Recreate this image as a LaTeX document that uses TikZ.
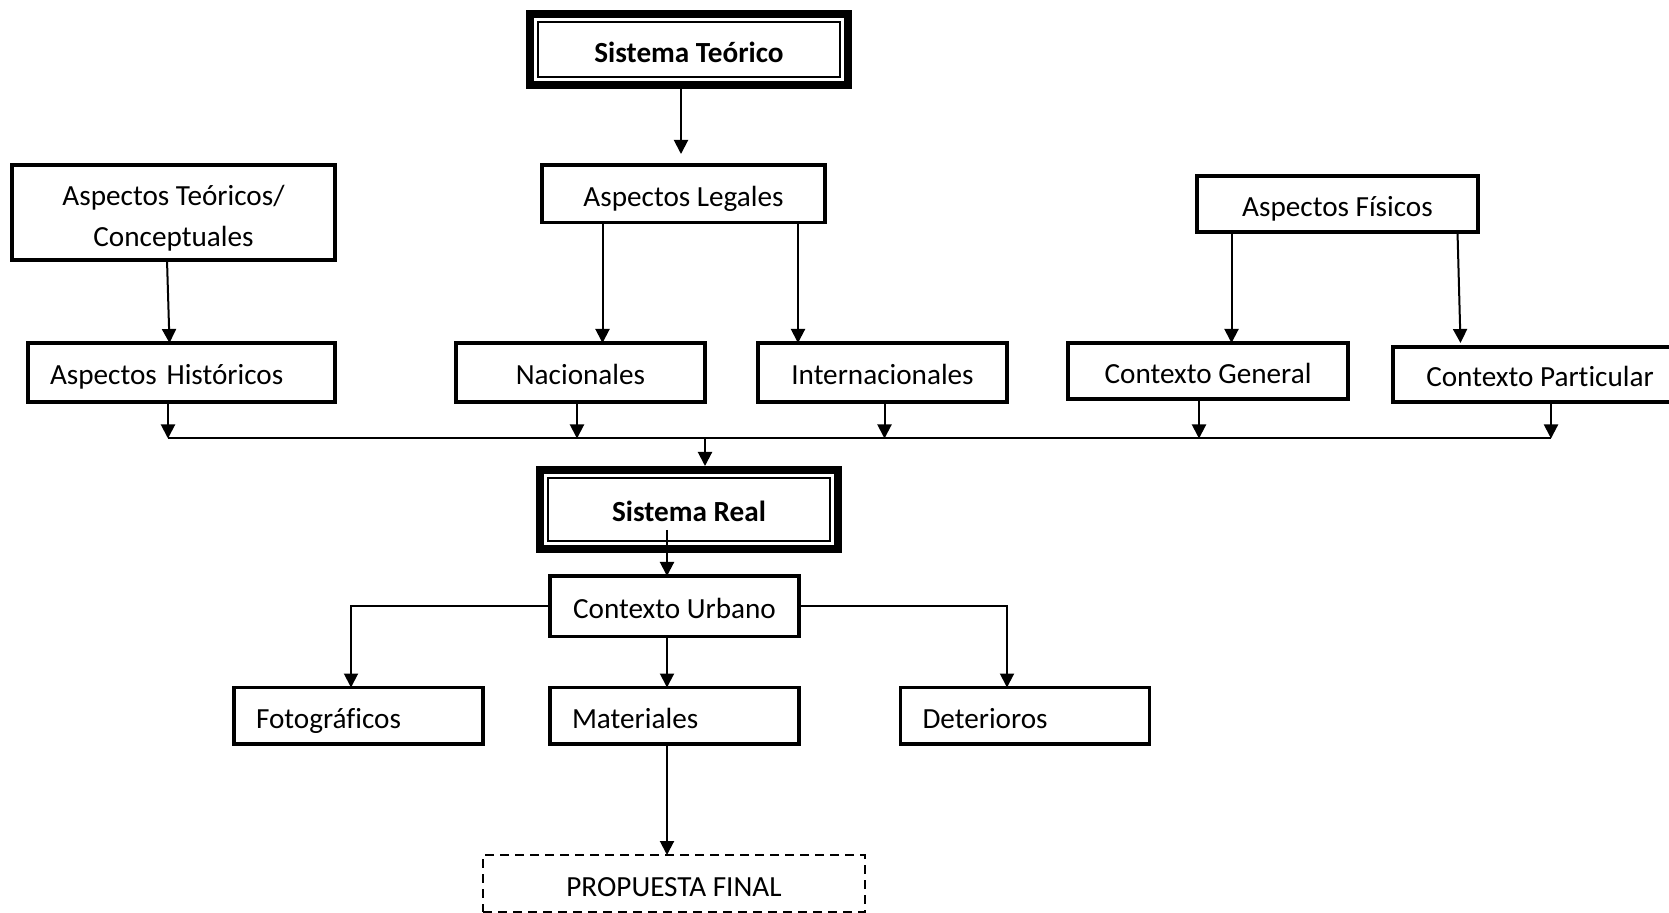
\documentclass[tikz,border=0pt]{standalone}
\usepackage{fontspec}
\setmainfont{Carlito}[Ligatures=NoCommon]
\usetikzlibrary{arrows.meta,calc}
\begin{document}
\begin{tikzpicture}[x=0.5pt,y=-0.5pt,
  every node/.style={font=\fontsize{14.6}{20.5}\selectfont},
  low/.style={text height=13pt, text depth=0.5pt},
  box/.style={draw, line width=1.7pt, outer sep=0pt, inner sep=0pt, align=center, low},
  leftbox/.style={box, inner xsep=11pt, text width=#1, align=left},
  realbox/.style={draw, line width=1pt, outer sep=0pt, inner sep=0pt, low, font=\fontsize{14.6}{20.5}\selectfont\bfseries},
  frame/.style={line width=4pt},
  arr/.style={line width=1pt, -{Triangle[length=7pt,width=7pt]}},
  plain/.style={line width=1pt},
  dashbox/.style={draw, line width=1.2pt, dash pattern=on 4.5pt off 3pt, outer sep=0pt, inner sep=0pt, low}
]
\fill[white] (0,0) rectangle (1669,913);
\clip (0,0) rectangle (1669,913);

% top level
\node[realbox, minimum width=151pt, minimum height=27.25pt] (st) at (689,49.75) {Sistema Teórico};
\draw[frame] ([shift={(-4pt,4pt)}]st.north west) rectangle ([shift={(4pt,-4pt)}]st.south east);

\node[draw, line width=1.7pt, outer sep=0pt, inner sep=0pt, align=center, text height=34pt, text depth=0pt, minimum width=161.5pt, minimum height=47.5pt] (tc) at (173.5,212.5) {Aspectos Teóricos/\\Conceptuales};
\node[box, minimum width=141.5pt, minimum height=28.75pt] (le) at (683.5,193.75) {Aspectos Legales};
\node[box, minimum width=140.5pt, minimum height=28pt] (fi) at (1337.5,204) {Aspectos Físicos};

\node[leftbox=131.5pt, minimum width=153.5pt, minimum height=29.5pt] (hi) at (181.5,372.5) {Aspectos Históricos};
\node[box, minimum width=124.5pt, minimum height=29.5pt] (na) at (580.5,372.5) {Nacionales};
\node[box, minimum width=124.5pt, minimum height=29.5pt] (in) at (882.5,372.5) {Internacionales};
\node[box, minimum width=140pt, minimum height=28pt] (cg) at (1208,371) {Contexto General};
\node[box, minimum width=147pt, minimum height=27.5pt] (cp) at (1540,374.5) {Contexto Particular};

\coordinate (bus) at (0,438.5);

\node[realbox, minimum width=141pt, minimum height=31.5pt] (sr) at (689,509.5) {Sistema Real};
\draw[frame] ([shift={(-4pt,4pt)}]sr.north west) rectangle ([shift={(4pt,-4pt)}]sr.south east);

\node[box, minimum width=124.5pt, minimum height=30.25pt] (cu) at (674.5,606.25) {Contexto Urbano};
\node[leftbox=102.5pt, minimum width=124.5pt, minimum height=28.25pt] (fo) at (358.5,715.75) {Fotográficos};
\node[leftbox=102.5pt, minimum width=124.5pt, minimum height=28.25pt] (ma) at (674.5,715.75) {Materiales};
\node[leftbox=102.5pt, minimum width=124.5pt, minimum height=28.25pt] (de) at (1025,715.75) {Deterioros};
\node[dashbox, minimum width=191pt, minimum height=28.5pt] (pf) at (674,883.5) {PROPUESTA FINAL};

% connectors upper part
\draw[arr, shorten >=5.5pt] ([xshift=-4pt,yshift=-6pt]st.south) -- ([xshift=-1.25pt]le.north);
\draw[arr] ([xshift=-3.25pt]tc.south) -- ([xshift=-6pt]hi.north);
\draw[arr] ([xshift=11pt]na.north |- le.south) -- ([xshift=11pt]na.north);
\draw[arr] ([xshift=-42.25pt]in.north |- le.south) -- ([xshift=-42.25pt]in.north);
\draw[arr] ([xshift=11.75pt]cg.north |- fi.south) -- ([xshift=11.75pt]cg.north);
\draw[arr] ([xshift=60pt]fi.south) -- ([xshift=-39.75pt,yshift=2pt]cp.north);

% bus
\draw[plain] ([xshift=-6.75pt]hi.south |- bus) -- ([xshift=5.5pt]cp.south |- bus);
\draw[arr] ([xshift=-6.75pt]hi.south) -- ([xshift=-6.75pt]hi.south |- bus);
\draw[arr] ([xshift=-1.75pt]na.south) -- ([xshift=-1.75pt]na.south |- bus);
\draw[arr] ([xshift=1pt]in.south) -- ([xshift=1pt]in.south |- bus);
\draw[arr] ([xshift=-4.5pt]cg.south) -- ([xshift=-4.5pt]cg.south |- bus);
\draw[arr] ([xshift=5.5pt]cp.south) -- ([xshift=5.5pt]cp.south |- bus);
\draw[arr] ([xshift=8pt]sr.north |- bus) -- ([xshift=8pt,yshift=6pt]sr.north);

% lower part
\draw[arr] ([xshift=-11pt,yshift=-10.25pt]sr.center) -- ([xshift=-3.75pt]cu.north);
\draw[arr] (cu.west) -| ([xshift=-3.75pt]fo.north);
\draw[arr] (cu.east) -| ([xshift=-9pt]de.north);
\draw[arr] ([xshift=-3.75pt]cu.south) -- ([xshift=-3.75pt]ma.north);
\draw[arr] ([xshift=-3.75pt]ma.south) -- ([xshift=-3.5pt]pf.north);
\end{tikzpicture}
\end{document}
